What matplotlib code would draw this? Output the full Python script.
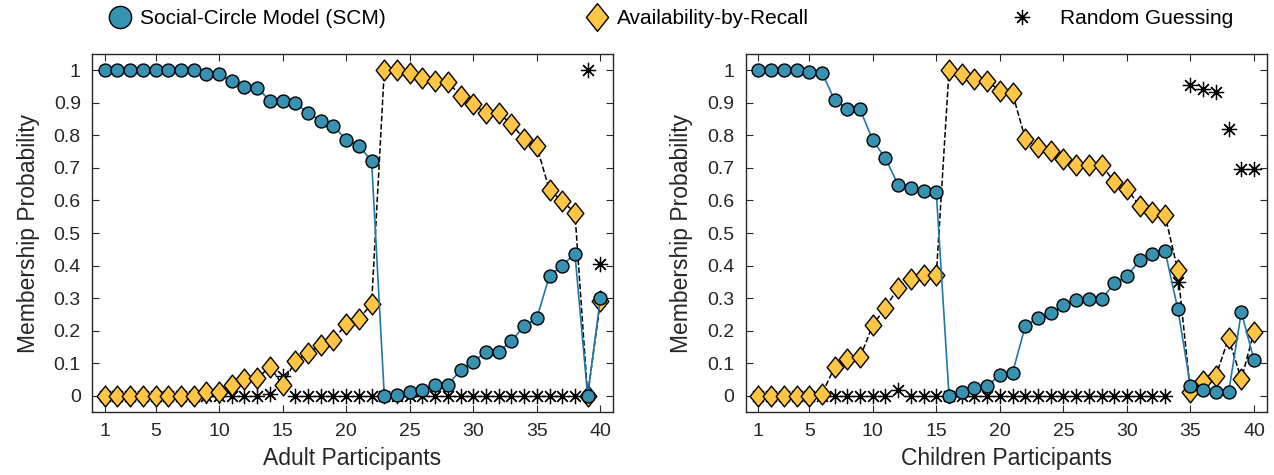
import numpy as np
import matplotlib.pyplot as plt
from matplotlib.path import Path
from matplotlib.lines import Line2D

plt.rcParams['font.family'] = ['Liberation Sans', 'DejaVu Sans']

participants = np.arange(1, 41)

# Adult participants
adult_scm = [1.0, 1.0, 1.0, 1.0, 1.0, 1.0, 1.0, 1.0, 0.989, 0.988,
             0.967, 0.95, 0.947, 0.906, 0.906, 0.898, 0.870, 0.845, 0.83, 0.786,
             0.767, 0.722, 0.0, 0.002, 0.01, 0.017, 0.033, 0.033, 0.079, 0.104,
             0.135, 0.135, 0.168, 0.214, 0.238, 0.369, 0.40, 0.437, 0.0, 0.299]
adult_avail = [0.0, 0.0, 0.0, 0.0, 0.0, 0.0, 0.0, 0.0, 0.01, 0.013,
               0.033, 0.051, 0.053, 0.089, 0.034, 0.107, 0.131, 0.156, 0.172, 0.22,
               0.237, 0.281, 1.0, 1.0, 0.991, 0.976, 0.967, 0.965, 0.921, 0.896,
               0.868, 0.868, 0.835, 0.789, 0.766, 0.631, 0.598, 0.562, 0.0, 0.29]
adult_random = [0.0] * 13 + [0.005, 0.061] + [0.0] * 23 + [1.0, 0.406]

# Children participants
child_scm = [1.0, 1.0, 1.0, 1.0, 0.995, 0.993, 0.908, 0.882, 0.88, 0.785,
             0.729, 0.648, 0.637, 0.628, 0.626, 0.0, 0.01, 0.023, 0.03, 0.064,
             0.071, 0.214, 0.24, 0.253, 0.278, 0.293, 0.296, 0.296, 0.345, 0.367,
             0.416, 0.434, 0.444, 0.267, 0.029, 0.017, 0.010, 0.010, 0.257, 0.11]
child_avail = [0.0, 0.0, 0.0, 0.0, 0.0, 0.005, 0.088, 0.113, 0.118, 0.217,
               0.271, 0.331, 0.36, 0.37, 0.37, 1.0, 0.988, 0.974, 0.967, 0.937,
               0.929, 0.789, 0.763, 0.753, 0.728, 0.71, 0.708, 0.708, 0.658, 0.636,
               0.583, 0.565, 0.554, 0.385, 0.01, 0.046, 0.061, 0.177, 0.051, 0.196]
child_random = [0.0] * 11 + [0.018] + [0.0] * 21 + [0.349, 0.954, 0.942, 0.932, 0.82, 0.697, 0.697]

xticks = [1, 5, 10, 15, 20, 25, 30, 35, 40]
yticks = np.round(np.arange(0, 1.01, 0.1), 1)

scm_line = '#1f78a8'
scm_face = '#3791b1'
avail_face = '#ffc646'
ink = '#262626'

diamond = Path([(0, 1), (0.8, 0), (0, -1), (-0.8, 0), (0, 1)],
               [Path.MOVETO, Path.LINETO, Path.LINETO, Path.LINETO, Path.CLOSEPOLY])

fig = plt.figure(figsize=(12.74, 4.75), dpi=100)
ax1 = fig.add_axes([0.0722, 0.1326, 0.409, 0.7537])
ax2 = fig.add_axes([0.5853, 0.1326, 0.409, 0.7537])


def draw_panel(ax, scm, avail, rand, xlabel):
    ax.plot(participants, rand, linestyle='none', marker=(8, 2, 0), ms=11,
            mec='black', mew=0.9, color='black', zorder=2)
    ax.plot(participants, avail, linestyle='--', color='black', lw=1.1,
            marker=diamond, ms=15, mfc=avail_face, mec='black', mew=1.0, zorder=3)
    ax.plot(participants, scm, linestyle='-', color=scm_line, lw=1.2,
            marker='o', ms=9.3, mfc=scm_face, mec='black', mew=1.0, zorder=4)
    ax.set_xlim(0, 41)
    ax.set_ylim(-0.05, 1.05)
    ax.set_xticks(xticks)
    ax.set_yticks(yticks)
    ax.set_yticklabels([f'{v:g}' for v in yticks])
    ax.tick_params(direction='in', top=True, right=True, length=5, width=0.8,
                   labelsize=14, colors=ink, pad=8)
    for s in ax.spines.values():
        s.set_color(ink)
        s.set_linewidth(1.0)
    ax.set_xlabel(xlabel, fontsize=16.5, color=ink, labelpad=5)
    ax.set_ylabel('Membership Probability', fontsize=16.5, color=ink, labelpad=10)


draw_panel(ax1, adult_scm, adult_avail, adult_random, 'Adult Participants')
draw_panel(ax2, child_scm, child_avail, child_random, 'Children Participants')

# legend across the top, marker-only handles
legend_items = [
    (Line2D([], [], ls='none', marker='o', ms=16, mfc=scm_face, mec='black', mew=1.0),
     'Social-Circle Model (SCM)', 0.0863, 0.45),
    (Line2D([], [], ls='none', marker=diamond, ms=20, mfc=avail_face, mec='black', mew=1.0),
     'Availability-by-Recall', 0.4605, 0.45),
    (Line2D([], [], ls='none', marker=(8, 2, 0), ms=11, mec='black', mew=0.9),
     'Random Guessing', 0.794, 1.33),
]
for handle, text, xpos, pad in legend_items:
    fig.legend([handle], [text], loc='center left', bbox_to_anchor=(xpos, 0.96),
               frameon=False, fontsize=15, borderpad=0, borderaxespad=0,
               handlelength=1.0, handletextpad=pad)

fig.savefig('out.png', dpi=100)
